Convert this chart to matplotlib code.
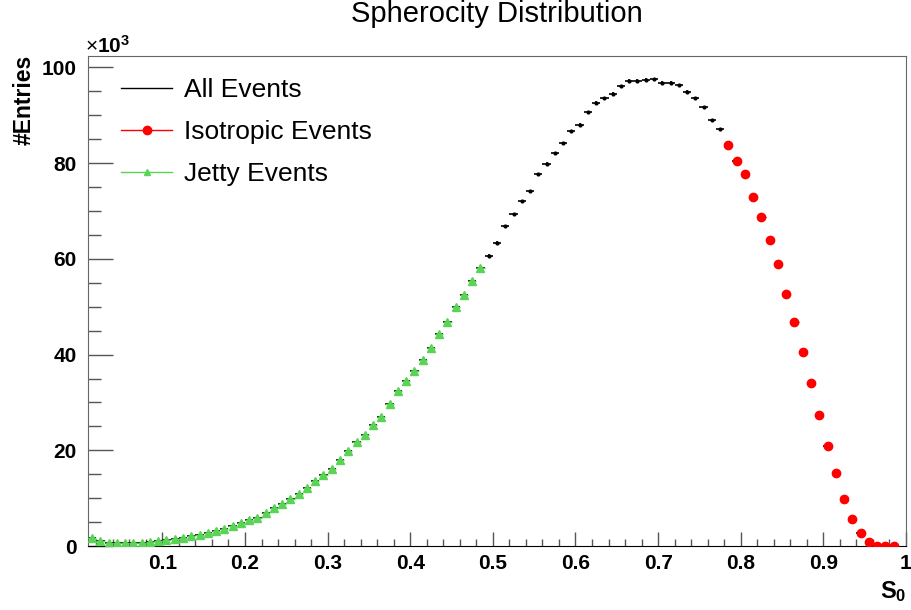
import numpy as np
import matplotlib
matplotlib.use("Agg")
import matplotlib.pyplot as plt
from matplotlib.lines import Line2D
from matplotlib.ticker import MultipleLocator

plt.rcParams['font.family'] = ['Liberation Sans', 'DejaVu Sans']
plt.rcParams['mathtext.fontset'] = 'custom'
plt.rcParams['mathtext.rm'] = 'Liberation Sans'
plt.rcParams['mathtext.bf'] = 'Liberation Sans:bold'

# --- histogram content (entries in units of 10^3), 0.01-wide bins from 0.01 ---
bin_low = 0.01
bin_width = 0.01

all_counts = [
    1.67, 1.04, 0.72, 0.68, 0.58, 0.58, 0.70, 0.84, 1.04, 1.18,
    1.46, 1.67, 2.02, 2.37, 2.72, 3.06, 3.62, 4.18, 4.74, 5.50,
    5.95, 6.90, 7.98, 8.84, 9.82, 10.87, 12.12, 13.58, 14.87, 16.13,
    18.00, 19.83, 21.70, 23.10, 25.29, 27.00, 29.75, 32.40, 34.40, 36.50,
    38.80, 41.40, 44.40, 46.90, 49.90, 52.50, 55.40, 58.10,
    60.70, 63.40, 66.90, 69.30, 72.00, 74.10, 77.70, 79.90, 82.10, 84.20,
    86.70, 88.00, 90.60, 92.60, 93.60, 94.50, 96.10, 97.20, 97.20, 97.40,
    97.50, 96.80, 96.80, 96.30, 94.90, 93.60, 91.70, 89.00, 87.10,
    83.70, 80.50, 77.70, 72.90, 68.80, 63.90, 58.90, 52.60, 46.90, 40.60,
    34.00, 27.40, 21.00, 15.30, 9.90, 5.60, 2.70, 0.90, 0.08, 0.02, 0.01,
]

# S0 cuts defining the event classes
jetty_max = 0.49
iso_min = 0.78

GREEN = '#59d454'

counts = np.array(all_counts)
centers = bin_low + bin_width * (np.arange(len(counts)) + 0.5)
errors = np.sqrt(counts * 1000.0) / 1000.0

jet = centers < jetty_max
iso = centers > iso_min

fig = plt.figure(figsize=(9.12, 6.10), dpi=100)
ax = fig.add_axes([88 / 912, 64 / 610, 818 / 912, 490 / 610])

ax.errorbar(centers, counts, xerr=bin_width / 2, yerr=errors, fmt='o', ms=2,
            color='black', ecolor='black', elinewidth=1.2, capsize=0, zorder=2)
ax.errorbar(centers[jet], counts[jet], xerr=bin_width / 2, yerr=errors[jet], fmt='^',
            ms=6, color=GREEN, ecolor=GREEN, elinewidth=1, capsize=0, zorder=3)
ax.errorbar(centers[iso], counts[iso], xerr=bin_width / 2, yerr=errors[iso], fmt='o',
            ms=6, color='red', ecolor='red', elinewidth=1, capsize=0, zorder=3)

ax.set_xlim(0.01, 1.0)
ax.set_ylim(0, 102.4)

ax.xaxis.set_minor_locator(MultipleLocator(0.02))
ax.yaxis.set_major_locator(MultipleLocator(20))
ax.yaxis.set_minor_locator(MultipleLocator(5))
ax.set_xticks([0.1, 0.2, 0.3, 0.4, 0.5, 0.6, 0.7, 0.8, 0.9, 1.0])
ax.set_xticklabels(['0.1', '0.2', '0.3', '0.4', '0.5', '0.6', '0.7', '0.8', '0.9', '1'])

ax.tick_params(axis='x', which='major', direction='in', length=10, width=1,
               color='#555555', pad=6, labelsize=15)
ax.tick_params(axis='x', which='minor', direction='in', length=5, width=1, color='#555555')
ax.tick_params(axis='y', which='major', direction='in', length=18, width=1,
               color='#555555', pad=8, labelsize=15)
ax.tick_params(axis='y', which='minor', direction='in', length=9, width=1, color='#555555')
for lbl in ax.get_xticklabels() + ax.get_yticklabels():
    lbl.set_fontweight('bold')

for side in ['left', 'right', 'top']:
    ax.spines[side].set_color('#666666')
ax.spines['bottom'].set_color('black')

fig.text(497 / 912, 1 - 14 / 610, 'Spherocity Distribution', ha='center', va='center',
         fontsize=21)
fig.text(85 / 912, 1 - 46 / 610, r'$\times\mathbf{10^{3}}$', ha='left', va='center',
         fontsize=15)
fig.text(24 / 912, 1 - 55 / 610, '#Entries', rotation=90, ha='center', va='top',
         fontsize=16.5, fontweight='bold')
fig.text(906 / 912, 1 - 592 / 610, r'$\mathbf{S_0}$', ha='right', va='center',
         fontsize=17)

handles = [
    Line2D([], [], color='black', lw=1),
    Line2D([], [], color='red', lw=1, marker='o', ms=6),
    Line2D([], [], color=GREEN, lw=1, marker='^', ms=5),
]
labels = ['All Events', 'Isotropic Events', 'Jetty Events']
ax.legend(handles, labels, loc='upper left', bbox_to_anchor=(121 / 912, 1 - 78 / 610),
          bbox_transform=fig.transFigure, frameon=False, fontsize=19, borderpad=0,
          borderaxespad=0, handlelength=1.95, handletextpad=0.45, labelspacing=0.68,
          numpoints=1)

fig.savefig('out.png', dpi=100)
